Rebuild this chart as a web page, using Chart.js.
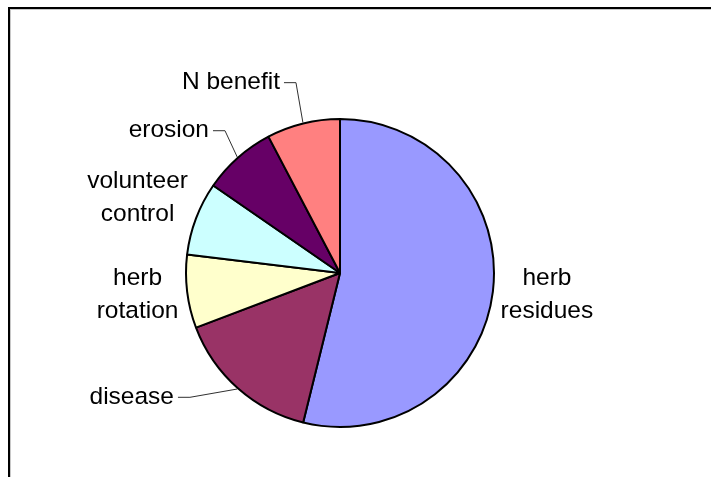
<!DOCTYPE html>
<html>
<head>
<meta charset="utf-8">
<style>
  html, body { margin: 0; padding: 0; background: #ffffff; }
  #wrap { width: 711px; height: 477px; position: relative; }
</style>
<script src="https://cdn.jsdelivr.net/npm/chart.js@4/dist/chart.umd.min.js"></script>
</head>
<body>
<div id="wrap"><canvas id="chart" width="711" height="477"></canvas></div>
<script>
// Reasons cited, as counts per category
const categories = ['herb residues', 'disease', 'herb rotation', 'volunteer control', 'erosion', 'N benefit'];
const counts = [7, 2, 1, 1, 1, 1];
const sliceColors = ['#9999FF', '#993366', '#FFFFCC', '#CCFFFF', '#660066', '#FF8080'];

// Label layout, in units of the pie radius from the pie centre.
// "block" labels sit freely; "leader" labels get an elbow line back to the slice.
const labelLayout = {
  'herb residues':     { kind: 'block',  lines: ['herb', 'residues'],     at: [1.335, 0.126] },
  'disease':           { kind: 'leader', lines: ['disease'],              at: [-0.968, 0.802] },
  'herb rotation':     { kind: 'block',  lines: ['herb', 'rotation'],     at: [-1.306, 0.129] },
  'volunteer control': { kind: 'block',  lines: ['volunteer', 'control'], at: [-1.306, -0.494] },
  'erosion':           { kind: 'leader', lines: ['erosion'],              at: [-0.742, -0.918] },
  'N benefit':         { kind: 'leader', lines: ['N benefit'],            at: [-0.284, -1.228] }
};

const FONT = '24.5px "Liberation Sans", Arial, sans-serif';
const LINE_H = 33;

// Frame around the chart area (top and left edges fall inside the canvas)
const framePlugin = {
  id: 'frame',
  beforeDraw(chart) {
    const ctx = chart.ctx;
    ctx.save();
    ctx.fillStyle = '#ffffff';
    ctx.fillRect(0, 0, chart.width, chart.height);
    ctx.fillStyle = '#000000';
    ctx.fillRect(8, 7, chart.width, 2);
    ctx.fillRect(8, 7, 2, chart.height);
    ctx.fillStyle = '#c8c8c8';
    ctx.fillRect(10, 9, chart.width, 1);
    ctx.fillRect(10, 9, 1, chart.height);
    ctx.restore();
  }
};

// Category labels and leader lines, positioned from each arc's geometry
const labelPlugin = {
  id: 'sliceLabels',
  afterDatasetsDraw(chart) {
    const ctx = chart.ctx;
    const meta = chart.getDatasetMeta(0);
    ctx.save();
    ctx.font = FONT;
    ctx.fillStyle = '#000000';
    meta.data.forEach((arc, i) => {
      const name = chart.data.labels[i];
      const lay = labelLayout[name];
      const p = arc.getProps(['x', 'y', 'startAngle', 'endAngle', 'outerRadius'], true);
      const r = p.outerRadius + 1;
      const mid = (p.startAngle + p.endAngle) / 2;
      const ax = p.x + lay.at[0] * r;
      const ay = p.y + lay.at[1] * r;
      if (lay.kind === 'leader') {
        const ex = p.x + Math.cos(mid) * r;
        const ey = p.y + Math.sin(mid) * r;
        const hx = ax - 12;
        ctx.strokeStyle = '#303030';
        ctx.lineWidth = 1;
        ctx.beginPath();
        ctx.moveTo(ex, ey);
        ctx.lineTo(ax, ay);
        ctx.lineTo(hx, ay);
        ctx.stroke();
        ctx.textAlign = 'right';
        ctx.textBaseline = 'alphabetic';
        ctx.fillText(lay.lines[0], hx - 4, ay + 6.5);
      } else {
        ctx.textAlign = 'center';
        ctx.textBaseline = 'alphabetic';
        const n = lay.lines.length;
        lay.lines.forEach((t, k) => {
          const by = ay + (k - (n - 1) / 2) * LINE_H + 8.5;
          ctx.fillText(t, ax, by);
        });
      }
    });
    ctx.restore();
  }
};

new Chart(document.getElementById('chart'), {
  type: 'pie',
  data: {
    labels: categories,
    datasets: [{
      data: counts,
      backgroundColor: sliceColors,
      borderColor: '#000000',
      borderWidth: 2,
      radius: 154
    }]
  },
  options: {
    responsive: false,
    animation: false,
    layout: { padding: { left: 185, right: 216, top: 118, bottom: 49 } },
    plugins: {
      legend: { display: false },
      tooltip: { enabled: false }
    }
  },
  plugins: [framePlugin, labelPlugin]
});
</script>
</body>
</html>
